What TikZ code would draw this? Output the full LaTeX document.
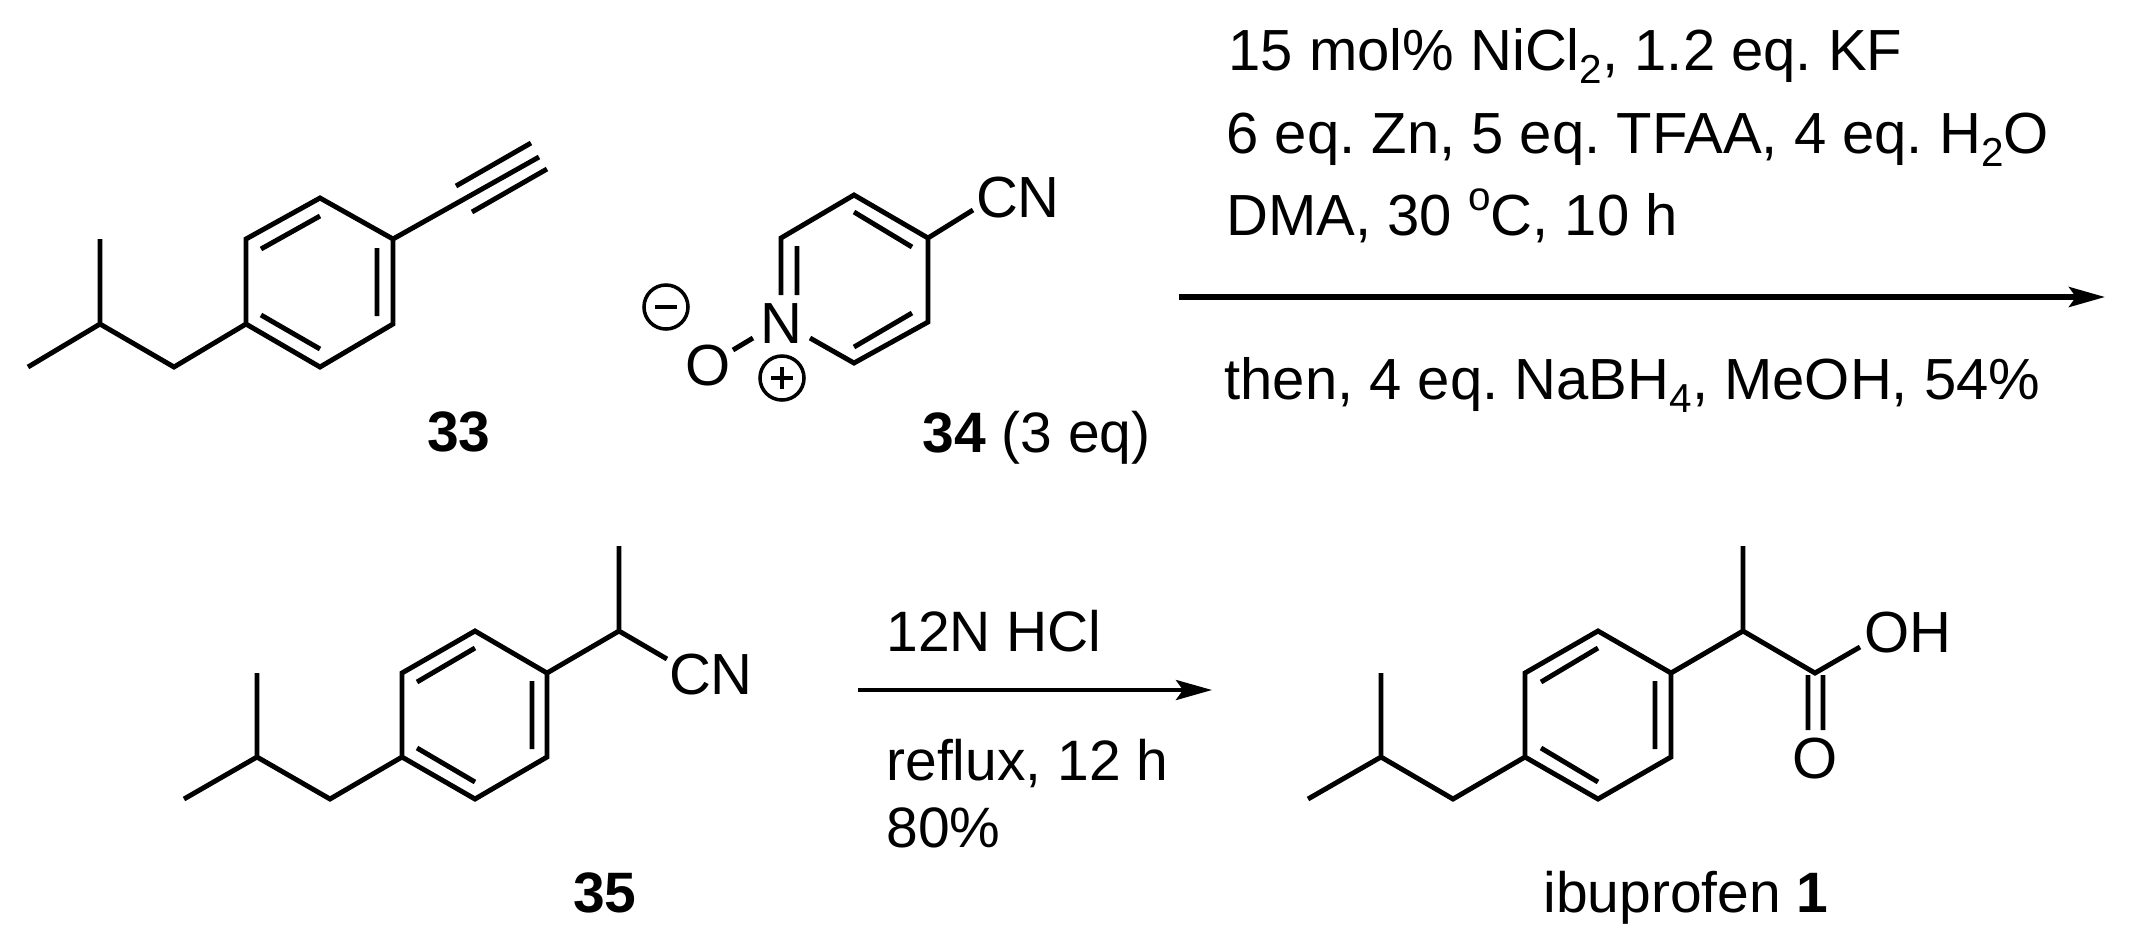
\documentclass[tikz,border=0pt]{standalone}
\usepackage{fontspec}
\setmainfont{Liberation Sans}
\usetikzlibrary{arrows.meta}
\newcommand{\chemsub}[1]{\raisebox{-3.7pt}{\fontsize{11.5}{12}\selectfont #1}}
\newcommand{\chemsup}[1]{\raisebox{7pt}{\fontsize{11.5}{12}\selectfont #1}}
\frenchspacing
\begin{document}
\begin{tikzpicture}[x=0.01cm,y=-0.01cm,line width=1.4pt,line join=miter]
\useasboundingbox (0,0) rectangle (2135,944);
\tikzstyle{every node}=[inner sep=0pt,font=\fontsize{16.5}{19}\selectfont];
\tikzstyle{txt}=[anchor=base west];
\tikzstyle{lab}=[anchor=base,font=\fontsize{16.2}{19}\selectfont];
\tikzstyle{cond}=[anchor=base west,font=\fontsize{16.2}{19}\selectfont];
\tikzstyle{chg}=[draw,circle,minimum size=0.44cm,line width=1pt];
% 33
\coordinate (1) at (28,367);
\coordinate (2) at (100,324);
\coordinate (3) at (100,239);
\coordinate (4) at (174,367);
\coordinate (5) at (246,324);
\coordinate (6) at (246,239);
\coordinate (7) at (320,198);
\coordinate (8) at (393,239);
\coordinate (9) at (393,324);
\coordinate (10) at (320,367);
\coordinate (11) at (539,157);
\coordinate (12) at (456,186);
\coordinate (13) at (531,143);
\coordinate (14) at (472,212);
\coordinate (15) at (547,169);
\coordinate (16) at (261,249);
\coordinate (17) at (320,216);
\coordinate (18) at (377,248);
\coordinate (19) at (377,316);
\coordinate (20) at (261,315);
\coordinate (21) at (320,349);
\draw (1) -- (2) -- (4) -- (5) -- (6) -- (7) -- (8) -- (9) -- (10) -- (5)
(2) -- (3)
(8) -- (11)
(12) -- (13)
(14) -- (15)
(16) -- (17)
(18) -- (19)
(20) -- (21);
\node[lab] (n33) at (459,451) {\textbf{33}};
% 34
\node (N) at (781,324) {N};
\node (O) at (708,366) {O};
\node (CN1) at (1018,198) {CN};
\node[chg] (minus) at (666,307) {};
\node[chg] (plus) at (782,378) {};
\coordinate (p1) at (781,238);
\coordinate (p2) at (854,195);
\coordinate (p3) at (928,238);
\coordinate (p4) at (928,322);
\coordinate (p5) at (854,363);
\coordinate (p6) at (810,338);
\coordinate (p7) at (781,295);
\coordinate (p8) at (797,246);
\coordinate (p9) at (797,295);
\coordinate (p10) at (854,212);
\coordinate (p11) at (912,247);
\coordinate (p12) at (854,347);
\coordinate (p13) at (912,313);
\coordinate (p14) at (973,210);
\coordinate (p15) at (733,350);
\coordinate (p16) at (753,338);
\draw (p7) -- (p1) -- (p2) -- (p3) -- (p4) -- (p5) -- (p6)
(p8) -- (p9)
(p10) -- (p11)
(p12) -- (p13)
(p3) -- (p14)
(p15) -- (p16);
\draw[line width=1pt] (minus.center) ++(-11,0) -- ++(22,0)
(plus.center) ++(-11,0) -- ++(22,0)
(plus.center) ++(0,-11) -- ++(0,22);
\node[cond] (n34) at (920,452) {\textbf{34} (3 eq)};
% first arrow
\node[txt] (r1) at (1226,70) {15 mol\% NiCl\chemsub{2}, 1.2 eq. KF};
\node[txt] (r2) at (1224,153) {6 eq. Zn, 5 eq. TFAA, 4 eq. H\chemsub{2}O};
\node[txt] (r3) at (1224,235) {DMA, 30 \chemsup{o}C, 10 h};
\node[txt] (r4) at (1222,399) {then, 4 eq. NaBH\chemsub{4}, MeOH, 54\%};
\coordinate (a1) at (1179,297);
\coordinate (a2) at (2105,297);
\draw[-{Stealth[length=0.36cm,width=0.2cm,inset=0.07cm]},line width=1.5pt] (a1) -- (a2);
% 35
\coordinate (b1) at (184,799);
\coordinate (b2) at (257,757);
\coordinate (b3) at (257,673);
\coordinate (b4) at (330,799);
\coordinate (b5) at (402,757);
\coordinate (b6) at (402,673);
\coordinate (b7) at (475,631);
\coordinate (b8) at (547,673);
\coordinate (b9) at (547,757);
\coordinate (b10) at (475,799);
\coordinate (b11) at (619,631);
\coordinate (b12) at (619,546);
\coordinate (b13) at (667,659);
\coordinate (b14) at (417,682);
\coordinate (b15) at (475,648);
\coordinate (b16) at (532,681);
\coordinate (b17) at (532,749);
\coordinate (b18) at (417,748);
\coordinate (b19) at (475,782);
\draw (b1) -- (b2) -- (b4) -- (b5) -- (b6) -- (b7) -- (b8) -- (b9) -- (b10) -- (b5)
(b2) -- (b3)
(b8) -- (b11) -- (b13)
(b11) -- (b12)
(b14) -- (b15)
(b16) -- (b17)
(b18) -- (b19);
\node (CN2) at (711,675) {CN};
\node[lab] (n35) at (605,912) {\textbf{35}};
% second arrow
\node[cond] (s1) at (884,651) {12N HCl};
\node[cond] (s2) at (884,780) {reflux, 12 h};
\node[cond] (s3) at (884,847) {80\%};
\coordinate (a3) at (858,690);
\coordinate (a4) at (1212,690);
\draw[-{Stealth[length=0.36cm,width=0.2cm,inset=0.07cm]},line width=1.2pt] (a3) -- (a4);
% ibuprofen
\coordinate (c1) at (1308,799);
\coordinate (c2) at (1381,757);
\coordinate (c3) at (1381,673);
\coordinate (c4) at (1453,799);
\coordinate (c5) at (1525,757);
\coordinate (c6) at (1525,673);
\coordinate (c7) at (1598,631);
\coordinate (c8) at (1671,673);
\coordinate (c9) at (1671,757);
\coordinate (c10) at (1598,799);
\coordinate (c11) at (1743,631);
\coordinate (c12) at (1743,546);
\coordinate (c13) at (1815,673);
\coordinate (c14) at (1860,647);
\coordinate (c15) at (1808,675);
\coordinate (c16) at (1808,730);
\coordinate (c17) at (1823,675);
\coordinate (c18) at (1823,730);
\coordinate (c19) at (1541,682);
\coordinate (c20) at (1598,648);
\coordinate (c21) at (1655,681);
\coordinate (c22) at (1655,749);
\coordinate (c23) at (1541,748);
\coordinate (c24) at (1598,782);
\draw (c1) -- (c2) -- (c4) -- (c5) -- (c6) -- (c7) -- (c8) -- (c9) -- (c10) -- (c5)
(c2) -- (c3)
(c8) -- (c11) -- (c13) -- (c14)
(c11) -- (c12)
(c15) -- (c16)
(c17) -- (c18)
(c19) -- (c20)
(c21) -- (c22)
(c23) -- (c24);
\node (OH) at (1908,633) {OH};
\node (O2) at (1815,759) {O};
\node[lab] (n1) at (1686,912) {ibuprofen \textbf{1}};
\end{tikzpicture}
\end{document}
